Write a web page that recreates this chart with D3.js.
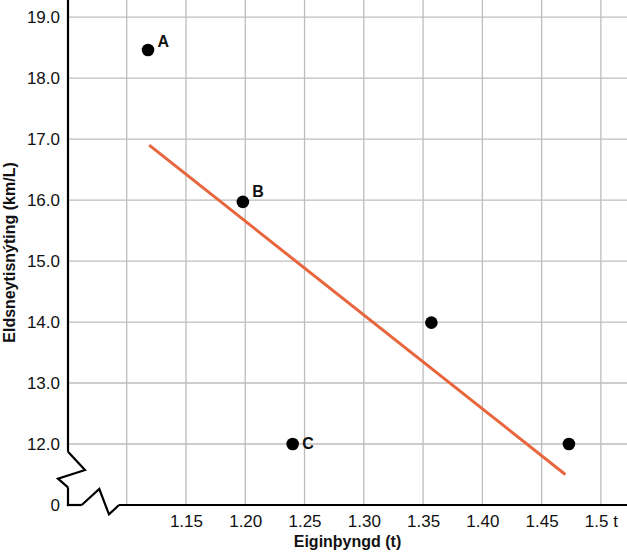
<!DOCTYPE html>
<html>
<head>
<meta charset="utf-8">
<script src="https://cdn.jsdelivr.net/npm/d3@7"></script>
<style>
  html, body { margin: 0; padding: 0; background: #fff; }
  svg { display: block; font-family: "Liberation Sans", Arial, Helvetica, sans-serif; }
</style>
</head>
<body>
<svg id="chart" width="627" height="555"></svg>
<script>
// ---- data ----
const pointLabels = ["A", "B", "C", "", ""];
const weights = [1.118, 1.198, 1.240, 1.357, 1.473];     // Eiginþyngd (t)
const economy = [18.46, 15.97, 12.0, 13.99, 12.0];       // Eldsneytisnýting (km/L)
const trendX = [1.119, 1.470];
const trendY = [16.90, 11.50];
const xTicks = [1.15, 1.20, 1.25, 1.30, 1.35, 1.40, 1.45, 1.50];
const xTickLabels = ["1.15", "1.20", "1.25", "1.30", "1.35", "1.40", "1.45", "1.5 t"];
const xGrid = [1.10, 1.15, 1.20, 1.25, 1.30, 1.35, 1.40, 1.45, 1.50];
const yTicks = [11, 12, 13, 14, 15, 16, 17, 18, 19];
const yTickLabels = ["0", "12.0", "13.0", "14.0", "15.0", "16.0", "17.0", "18.0", "19.0"];
const yGrid = [12, 13, 14, 15, 16, 17, 18, 19];
const xTitle = "Eiginþyngd (t)";
const yTitle = "Eldsneytisnýting (km/L)";

// ---- layout ----
const W = 627, H = 555;
const m = { left: 68, right: 0, top: 0, bottom: 50 };
const svg = d3.select("#chart");
const x = d3.scaleLinear().domain([1.0505, 1.522]).range([m.left, W - m.right]);
const y = d3.scaleLinear().domain([11, 19.28]).range([H - m.bottom, m.top]);
const labelOffsets = { A: [9.5, -2.7], B: [9.3, -5.3], C: [9.6, 4.5] };

// gridlines
svg.append("g").selectAll("line.v").data(xGrid).join("line")
  .attr("x1", d => x(d)).attr("x2", d => x(d))
  .attr("y1", m.top).attr("y2", y(11))
  .attr("stroke", "#bdbdbd").attr("stroke-width", 1.3);
svg.append("g").selectAll("line.h").data(yGrid).join("line")
  .attr("x1", x(1.0505)).attr("x2", W)
  .attr("y1", d => y(d)).attr("y2", d => y(d))
  .attr("stroke", "#bdbdbd").attr("stroke-width", 1.3);

// axes using d3 axis generators (domain drawn separately for break marks)
const xAxis = d3.axisBottom(x).tickValues(xTicks).tickSize(0).tickPadding(0)
  .tickFormat((d, i) => xTickLabels[i]);
const gx = svg.append("g").attr("transform", `translate(0,${y(11)})`).call(xAxis);
gx.select(".domain").remove();
gx.selectAll("text").attr("font-size", 17).attr("fill", "#111")
  .attr("font-family", "Liberation Sans, Arial, sans-serif")
  .attr("dy", null).attr("y", 21.5);

const yAxis = d3.axisLeft(y).tickValues(yTicks).tickSize(0).tickPadding(8)
  .tickFormat((d, i) => yTickLabels[i]);
const gy = svg.append("g").attr("transform", `translate(${x(1.0505)},0)`).call(yAxis);
gy.select(".domain").remove();
gy.selectAll("text").attr("font-size", 17).attr("fill", "#111")
  .attr("font-family", "Liberation Sans, Arial, sans-serif");

// axis lines with breaks
const x0 = x(1.0505), yb = y(11);
const axisG = svg.append("g").attr("stroke", "#000").attr("stroke-width", 2.2).attr("fill", "none");
axisG.append("line").attr("x1", x0).attr("x2", x0).attr("y1", 0).attr("y2", yb - 53.3);
axisG.append("line").attr("x1", x0).attr("x2", x0).attr("y1", yb - 17.7).attr("y2", yb + 1.1);
axisG.append("line").attr("x1", x0 - 1.1).attr("x2", x0 + 13.7).attr("y1", yb).attr("y2", yb);
axisG.append("line").attr("x1", x0 + 51).attr("x2", W).attr("y1", yb).attr("y2", yb);
axisG.append("path").attr("stroke-linejoin", "miter")
  .attr("d", `M${x0},${yb - 53.3} L${x0 + 17},${yb - 35} L${x0 - 10},${yb - 26.3} L${x0},${yb - 17.7}`);
axisG.append("path").attr("stroke-linejoin", "miter")
  .attr("d", `M${x0 + 13.7},${yb} L${x0 + 31.3},${yb - 16} L${x0 + 41},${yb + 9.4} L${x0 + 51},${yb}`);

// trend line
svg.append("path")
  .datum(trendX.map((d, i) => [d, trendY[i]]))
  .attr("fill", "none").attr("stroke", "#e8663d").attr("stroke-width", 3)
  .attr("d", d3.line().x(d => x(d[0])).y(d => y(d[1])));

// points
const pts = weights.map((d, i) => ({ x: d, y: economy[i], label: pointLabels[i] }));
svg.append("g").selectAll("circle").data(pts).join("circle")
  .attr("cx", d => x(d.x)).attr("cy", d => y(d.y)).attr("r", 6.3).attr("fill", "#000");
svg.append("g").selectAll("text").data(pts.filter(d => d.label)).join("text")
  .attr("x", d => x(d.x) + labelOffsets[d.label][0])
  .attr("y", d => y(d.y) + labelOffsets[d.label][1])
  .attr("font-size", 16).attr("font-weight", "bold").attr("fill", "#111")
  .text(d => d.label);

// axis titles
svg.append("text")
  .attr("x", (x0 + W) / 2).attr("y", 547.3)
  .attr("text-anchor", "middle").attr("font-size", 16).attr("font-weight", "bold").attr("fill", "#111")
  .text(xTitle);
svg.append("text")
  .attr("transform", `translate(14.5,${yb / 2}) rotate(-90)`)
  .attr("text-anchor", "middle").attr("font-size", 16).attr("font-weight", "bold").attr("fill", "#111")
  .text(yTitle);
</script>
</body>
</html>
